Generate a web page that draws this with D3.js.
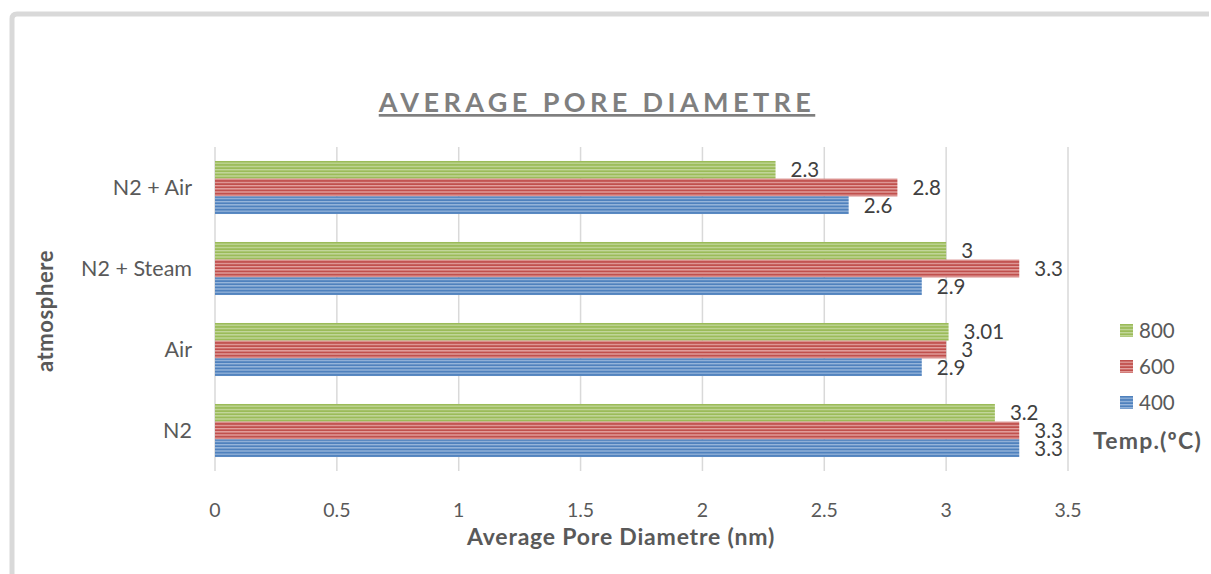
<!DOCTYPE html>
<html>
<head>
<meta charset="utf-8">
<script src="https://cdn.jsdelivr.net/npm/d3@7"></script>
<style>
  body { margin: 0; background: #fff; }
  text { font-family: Lato, "Open Sans", sans-serif; }
</style>
</head>
<body>
<script>
const w = 1211;
const h = 574;

// data
const categories = ["N2 + Air", "N2 + Steam", "Air", "N2"];
const series = ["800", "600", "400"];
const temp800 = [2.3, 3, 3.01, 3.2];
const temp600 = [2.8, 3.3, 3, 3.3];
const temp400 = [2.6, 2.9, 2.9, 3.3];
const xTicks = [0, 0.5, 1, 1.5, 2, 2.5, 3, 3.5];

const colors = {
    "800": ["#9bbb59", "#c4d89e"],
    "600": ["#c0504d", "#e4a4a2"],
    "400": ["#4f81bd", "#9ab8dc"]
};

let dataset = categories.map((c, i) => ({
    cat: c,
    vals: [
        {s: "800", v: temp800[i]},
        {s: "600", v: temp600[i]},
        {s: "400", v: temp400[i]}
    ]
}));

let svg = d3.select("body")
            .append("svg")
            .attr("width", w)
            .attr("height", h);

// striped fills
let defs = svg.append("defs");
series.forEach(s => {
    let p = defs.append("pattern")
        .attr("id", "pat" + s)
        .attr("patternUnits", "userSpaceOnUse")
        .attr("width", 8)
        .attr("height", 3.2);
    p.append("rect").attr("width", 8).attr("height", 3.2).attr("fill", colors[s][0]);
    p.append("rect").attr("y", 1.6).attr("width", 8).attr("height", 1.3).attr("fill", colors[s][1]);
});

// outer frame
svg.append("path")
    .attr("d", "M12,580 L12,19 Q12,14 17,14 L1209,14")
    .attr("fill", "none")
    .attr("stroke", "#d9d9d9")
    .attr("stroke-width", 5);

let x = d3.scaleLinear().domain([0, 3.5]).range([215, 1068]);
let y = d3.scaleBand().domain(categories).range([147, 471])
    .paddingInner(0.345).paddingOuter(0.1725);
let y2 = d3.scaleBand().domain(series).range([0, y.bandwidth()]);

// gridlines
svg.append("g")
    .selectAll("line")
    .data(xTicks)
    .enter()
    .append("line")
    .attr("x1", d => x(d))
    .attr("x2", d => x(d))
    .attr("y1", 147)
    .attr("y2", 471)
    .attr("stroke", "#d9d9d9")
    .attr("stroke-width", 1.5);

// bars
let groups = svg.selectAll("g.cat")
    .data(dataset)
    .enter()
    .append("g")
    .attr("class", "cat")
    .attr("transform", d => "translate(0," + y(d.cat) + ")");

groups.selectAll("rect")
    .data(d => d.vals)
    .enter()
    .append("rect")
    .attr("x", x(0))
    .attr("y", d => y2(d.s))
    .attr("width", d => x(d.v) - x(0))
    .attr("height", y2.bandwidth())
    .attr("fill", d => "url(#pat" + d.s + ")");

groups.selectAll("text")
    .data(d => d.vals)
    .enter()
    .append("text")
    .attr("x", d => x(d.v) + 15)
    .attr("y", d => y2(d.s) + y2.bandwidth() / 2)
    .attr("dy", "0.36em")
    .attr("font-size", 20.5)
    .attr("fill", "#404040")
    .text(d => d.v);

// x axis labels
svg.append("g")
    .selectAll("text")
    .data(xTicks)
    .enter()
    .append("text")
    .attr("x", d => x(d))
    .attr("y", 517)
    .attr("text-anchor", "middle")
    .attr("font-size", 19.5)
    .attr("fill", "#595959")
    .text(d => d);

// category labels
svg.append("g")
    .selectAll("text")
    .data(categories)
    .enter()
    .append("text")
    .attr("x", 192)
    .attr("y", d => y(d) + y.bandwidth() / 2)
    .attr("dy", "0.36em")
    .attr("text-anchor", "end")
    .attr("font-size", 21.5)
    .attr("fill", "#595959")
    .text(d => d);

// title
svg.append("text")
    .attr("x", 597)
    .attr("y", 112)
    .attr("text-anchor", "middle")
    .attr("font-size", 27)
    .attr("font-weight", "bold")
    .attr("letter-spacing", 4.4)
    .attr("fill", "#7f7f7f")
    .attr("text-decoration", "underline")
    .text("AVERAGE PORE DIAMETRE");

// axis titles
svg.append("text")
    .attr("x", 621)
    .attr("y", 545)
    .attr("text-anchor", "middle")
    .attr("font-size", 23)
    .attr("font-weight", "bold")
    .attr("letter-spacing", 0.8)
    .attr("fill", "#595959")
    .text("Average Pore Diametre (nm)");

svg.append("text")
    .attr("transform", "translate(53,311) rotate(-90)")
    .attr("text-anchor", "middle")
    .attr("font-size", 22)
    .attr("font-weight", "bold")
    .attr("letter-spacing", 0.6)
    .attr("fill", "#595959")
    .text("atmosphere");

// legend
let legend = svg.append("g")
    .selectAll("g")
    .data(series)
    .enter()
    .append("g")
    .attr("transform", (d, i) => "translate(1120," + (324 + i * 36) + ")");

legend.append("rect")
    .attr("width", 13)
    .attr("height", 13)
    .attr("fill", d => "url(#pat" + d + ")");

legend.append("text")
    .attr("x", 19)
    .attr("y", 6.5)
    .attr("dy", "0.36em")
    .attr("font-size", 20.5)
    .attr("fill", "#595959")
    .text(d => d);

svg.append("text")
    .attr("x", 1093)
    .attr("y", 449)
    .attr("font-size", 23)
    .attr("font-weight", "bold")
    .attr("letter-spacing", 1.2)
    .attr("fill", "#595959")
    .text("Temp.(ºC)");
</script>
</body>
</html>
